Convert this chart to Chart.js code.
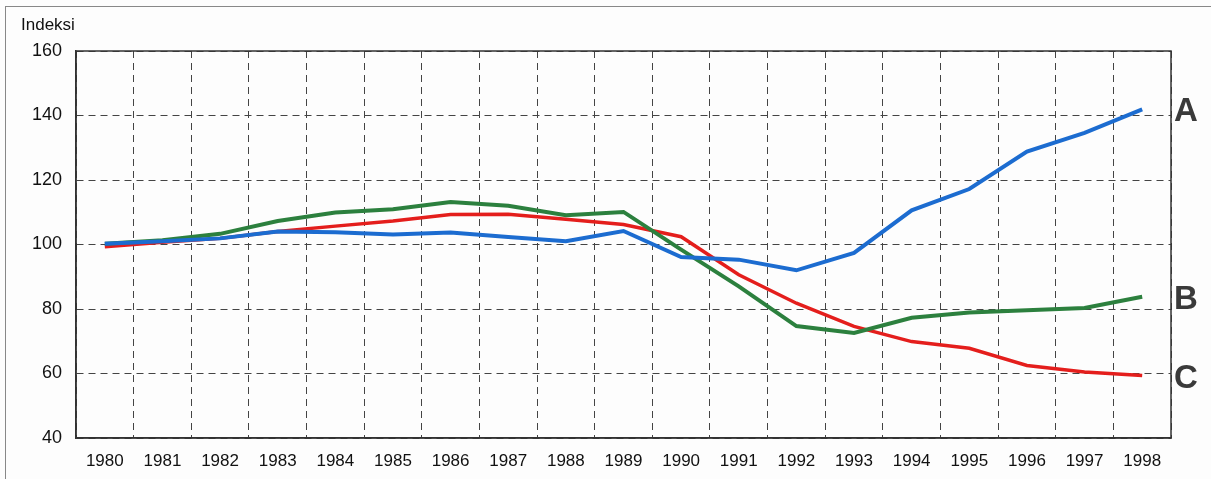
<!DOCTYPE html>
<html>
<head>
<meta charset="utf-8">
<script src="https://cdn.jsdelivr.net/npm/chart.js@4/dist/chart.umd.min.js"></script>
<style>
  html, body { margin: 0; padding: 0; background: #fdfdfd; }
  #wrap { position: relative; width: 1211px; height: 479px; }
  #frame { position: absolute; left: 5px; top: 6px; right: 0; bottom: 0;
           border-left: 1px solid #888; border-top: 1px solid #888; pointer-events: none; }
</style>
</head>
<body>
<div id="wrap">
  <canvas id="chart_indeksi" width="1211" height="479"></canvas>
  <div id="frame"></div>
</div>
<script>
// vuodet
var labels = ["1980", "1981", "1982", "1983", "1984", "1985", "1986", "1987", "1988", "1989",
              "1990", "1991", "1992", "1993", "1994", "1995", "1996", "1997", "1998"];

// sarjat, luettu kuvasta
var values_a = [100.2, 101, 101.9, 104, 103.8, 103.1, 103.7, 102.3, 101, 104.2,
                96.1, 95.3, 92, 97.4, 110.6, 117.2, 128.8, 134.6, 141.9];
var values_b = [100.2, 101.3, 103.3, 107.3, 109.9, 110.9, 113.2, 112, 109.1, 110.1,
                98.4, 87, 74.7, 72.6, 77.3, 78.9, 79.6, 80.3, 83.8];
var values_c = [99.3, 100.7, 101.9, 104, 105.7, 107.3, 109.3, 109.4, 107.8, 106.2,
                102.4, 90.6, 81.8, 74.6, 69.9, 67.8, 62.5, 60.5, 59.4];

var y_ticks = [40, 60, 80, 100, 120, 140, 160];

var series_names = ["A", "B", "C"];
var colors = [
    "rgb(28, 108, 208)", //sininen
    "rgb(44, 128, 62)",  //vihrea
    "rgb(228, 30, 28)",  //punainen
];

// kehys + A/B/C tekstit + otsikko
var extras = {
    id: "extras",
    afterDraw: function (chart) {
        var ctx = chart.ctx;
        var a = chart.chartArea;
        ctx.save();
        ctx.strokeStyle = "#333";
        ctx.lineWidth = 1.5;
        ctx.setLineDash([]);
        ctx.strokeRect(a.left, a.top, a.right - a.left, a.bottom - a.top);

        ctx.fillStyle = "#111";
        ctx.font = "17px 'Liberation Sans', Arial, sans-serif";
        ctx.textAlign = "left";
        ctx.textBaseline = "middle";
        ctx.fillText("Indeksi", 21, 25);

        ctx.fillStyle = "#3a3a3a";
        ctx.font = "bold 33px 'Liberation Sans', Arial, sans-serif";
        chart.data.datasets.forEach(function (ds, i) {
            var meta = chart.getDatasetMeta(i);
            var last = meta.data[meta.data.length - 1];
            ctx.fillText(series_names[i], a.right + 3, last.y + 3);
        });
        ctx.restore();
    },
};

var ctx_indeksi = document.getElementById("chart_indeksi");
var chart_indeksi = new Chart(ctx_indeksi, {
    type: "line",
    data: {
        labels: labels,
        datasets: [
            { label: "A", data: values_a, borderColor: colors[0], borderWidth: 4, pointRadius: 0, fill: false, tension: 0 },
            { label: "B", data: values_b, borderColor: colors[1], borderWidth: 4, pointRadius: 0, fill: false, tension: 0 },
            { label: "C", data: values_c, borderColor: colors[2], borderWidth: 3.5, pointRadius: 0, fill: false, tension: 0 },
        ],
    },
    options: {
        responsive: false,
        animation: false,
        layout: { padding: { top: 51, right: 40, left: 0, bottom: 0 } },
        plugins: {
            legend: { display: false },
            tooltip: { enabled: false },
        },
        scales: {
            x: {
                offset: true,
                grid: { offset: true, color: "#444", lineWidth: 1, drawTicks: false },
                border: { display: true, color: "#333", width: 1.5, dash: [7, 5] },
                ticks: {
                    color: "#111",
                    padding: 13,
                    maxRotation: 0,
                    autoSkip: false,
                    font: { family: "'Liberation Sans', Arial, sans-serif", size: 17 },
                },
                afterFit: function (scale) { scale.height = 41; },
            },
            y: {
                min: 40,
                max: 160,
                afterBuildTicks: function (scale) {
                    scale.ticks = y_ticks.map(function (v) { return { value: v }; });
                },
                grid: { color: "#444", lineWidth: 1, drawTicks: false },
                border: { display: true, color: "#333", width: 1.5, dash: [7, 5] },
                ticks: {
                    color: "#111",
                    padding: 14,
                    font: { family: "'Liberation Sans', Arial, sans-serif", size: 18 },
                },
                afterFit: function (scale) { scale.width = 76; },
            },
        },
    },
    plugins: [extras],
});
</script>
</body>
</html>
